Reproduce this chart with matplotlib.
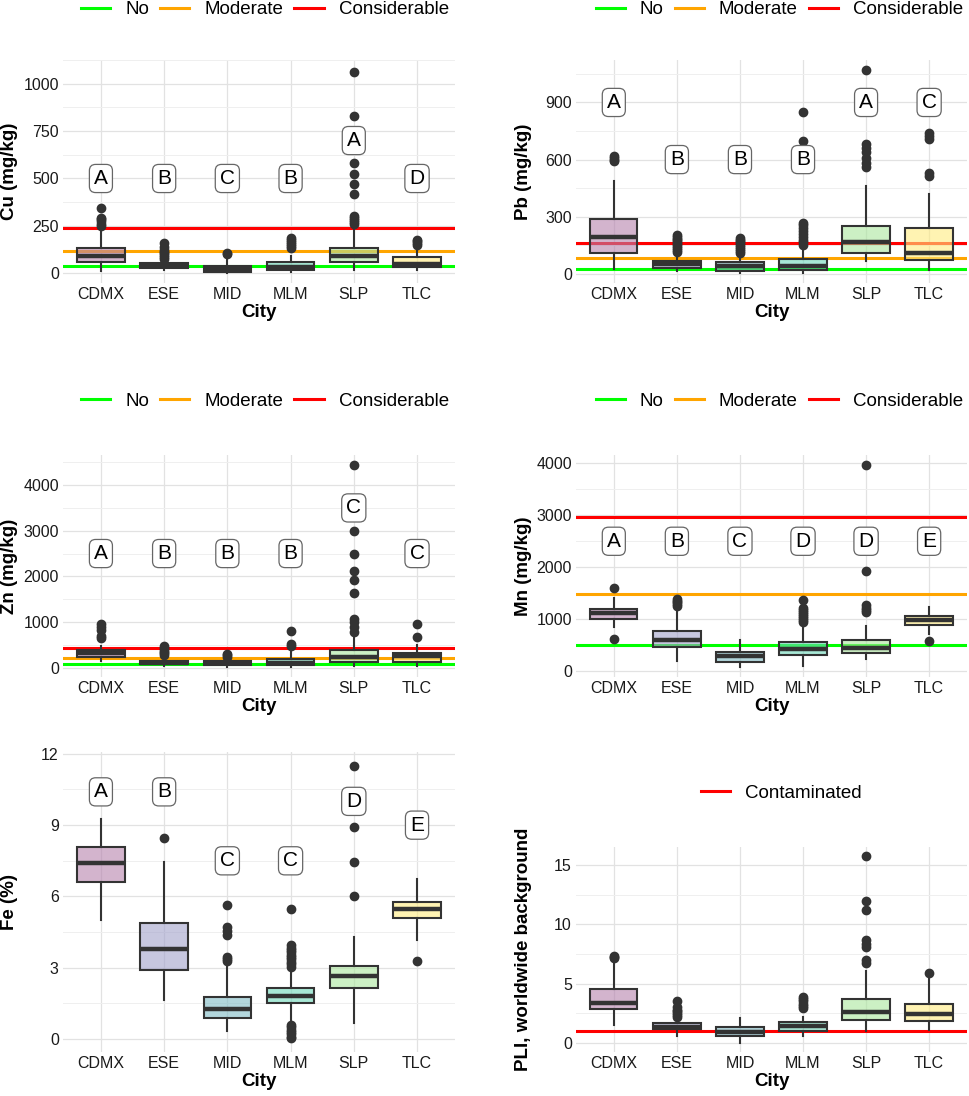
import matplotlib.pyplot as plt
from matplotlib.colors import to_rgba
from matplotlib.lines import Line2D

plt.rcParams['font.family'] = ['Liberation Sans', 'DejaVu Sans']

cities = ['CDMX', 'ESE', 'MID', 'MLM', 'SLP', 'TLC']
fills = ['#b682ad', '#a2a2cb', '#7fbbc5', '#6ed9bb', '#aae69d', '#ffeb7f']

guide_names = ['No', 'Moderate', 'Considerable']
guide_colors = ['#00ff00', '#ffa500', '#ff0000']

# per city: whisker low, q1, median, q3, whisker high
cu_box = [[12, 61, 94, 134, 230], [20, 28, 40, 52, 68], [2, 9, 22, 40, 75],
          [5, 16, 32, 59, 94], [20, 60, 91, 134, 245], [20, 33, 50, 85, 140]]
cu_out = [[250, 262, 275, 285, 292, 345],
          [75, 85, 95, 105, 115, 125, 140, 160],
          [100, 108],
          [135, 145, 155, 165, 175, 185],
          [260, 270, 280, 290, 300, 420, 470, 525, 580, 830, 1060],
          [148, 158, 168, 178]]
cu_letters = ['A', 'B', 'C', 'B', 'A', 'D']
cu_letter_y = [500, 500, 500, 500, 700, 500]
cu_lines = [39.5, 118.5, 237]

pb_box = [[25, 109, 192, 289, 488], [15, 28, 51, 67, 105], [5, 16, 39, 62, 100],
          [5, 20, 40, 78, 140], [65, 109, 166, 250, 459], [21, 74, 110, 242, 421]]
pb_out = [[590, 600, 610, 620],
          [115, 125, 135, 145, 155, 165, 175, 185, 195, 205],
          [110, 120, 130, 140, 150, 160, 170, 180, 190],
          [150, 165, 180, 195, 210, 225, 240, 255, 265, 700, 850],
          [560, 580, 610, 640, 660, 680, 1070],
          [515, 530, 710, 725, 740]]
pb_letters = ['A', 'B', 'B', 'B', 'A', 'C']
pb_letter_y = [900, 600, 600, 600, 900, 900]
pb_lines = [27, 81, 162]

zn_box = [[143, 231, 310, 385, 473], [40, 70, 105, 150, 240], [20, 55, 95, 143, 200],
          [15, 48, 100, 194, 400], [26, 128, 231, 392, 692], [40, 128, 260, 311, 488]]
zn_out = [[640, 700, 820, 900, 960],
          [270, 310, 350, 390, 430, 470],
          [240, 270, 300],
          [470, 520, 800],
          [780, 900, 1000, 1060, 1640, 1920, 2120, 2500, 3000, 4440],
          [680, 960]]
zn_letters = ['A', 'B', 'B', 'B', 'C', 'C']
zn_letter_y = [2500, 2500, 2500, 2500, 3500, 2500]
zn_lines = [70, 210, 420]

mn_box = [[851, 1000, 1109, 1193, 1406], [193, 470, 600, 774, 1193], [77, 180, 290, 367, 593],
          [97, 303, 419, 548, 903], [226, 354, 451, 593, 870], [710, 890, 980, 1050, 1224]]
mn_out = [[620, 1600],
          [1260, 1290, 1320, 1350, 1380],
          [],
          [940, 980, 1020, 1060, 1100, 1140, 1180, 1220, 1360],
          [1140, 1180, 1220, 1270, 1930, 3970],
          [570]]
mn_letters = ['A', 'B', 'C', 'D', 'D', 'E']
mn_letter_y = [2500, 2500, 2500, 2500, 2500, 2500]
mn_lines = [495, 1485, 2970]

fe_box = [[5.01, 6.62, 7.40, 8.10, 9.26], [1.64, 2.91, 3.78, 4.87, 7.47], [0.34, 0.90, 1.25, 1.78, 3.05],
          [0.66, 1.54, 1.81, 2.13, 2.77], [0.69, 2.13, 2.67, 3.09, 4.28], [4.17, 5.11, 5.46, 5.78, 6.73]]
fe_out = [[],
          [8.47],
          [3.27, 3.35, 3.45, 4.38, 4.55, 4.72, 5.64],
          [0.03, 0.1, 0.2, 0.3, 0.4, 0.5, 0.58, 3.05, 3.15, 3.25, 3.35, 3.45, 3.55,
           3.65, 3.75, 3.85, 3.95, 5.47],
          [6.02, 7.44, 8.91, 11.5],
          [3.30]]
fe_letters = ['A', 'B', 'C', 'C', 'D', 'E']
fe_letter_y = [10.4, 10.4, 7.5, 7.5, 10.0, 9.0]

pli_box = [[1.51, 2.83, 3.39, 4.51, 6.97], [0.59, 1.15, 1.37, 1.65, 2.1], [0.0, 0.53, 0.87, 1.29, 2.07],
           [0.53, 0.95, 1.43, 1.79, 2.21], [0.95, 1.88, 2.63, 3.67, 6.08], [1.09, 1.85, 2.41, 3.25, 5.35]]
pli_out = [[7.15, 7.25, 7.35],
           [2.2, 2.35, 2.5, 2.65, 2.8, 3.05, 3.53],
           [],
           [2.9, 3.1, 3.3, 3.5, 3.7, 3.89],
           [6.7, 6.97, 8.09, 8.3, 8.65, 11.23, 12.0, 15.74],
           [5.86]]
pli_lines = [1.0]


def draw_panel(ax, box, out, ylabel, major, minor, letters=None, letter_y=None,
               lines=None, names=None, colors=None, leg_xy=None, label_x=-0.115):
    pos = list(range(1, len(cities) + 1))
    stats = [dict(whislo=b[0], q1=b[1], med=b[2], q3=b[3], whishi=b[4], fliers=o)
             for b, o in zip(box, out)]
    res = ax.bxp(stats, positions=pos, widths=0.75, patch_artist=True, showcaps=False,
                 boxprops=dict(edgecolor='#333333', linewidth=1.5),
                 medianprops=dict(color='#333333', linewidth=3.2, solid_capstyle='butt'),
                 whiskerprops=dict(color='#333333', linewidth=1.5),
                 flierprops=dict(marker='o', markerfacecolor='#333333', markeredgecolor='#333333',
                                 markersize=6),
                 zorder=3)
    for patch, c in zip(res['boxes'], fills):
        patch.set_facecolor(to_rgba(c, 0.6))

    if lines is not None:
        for v, c in zip(lines, colors):
            ax.axhline(v, color=c, lw=2.2, zorder=2.5)
        handles = [Line2D([0], [0], color=c, lw=2.2) for c in colors]
        ax.legend(handles, names, loc='center', bbox_to_anchor=leg_xy, ncol=len(names),
                  frameon=False, fontsize=13.5, handlelength=1.55, handletextpad=0.8,
                  columnspacing=0.6, borderaxespad=0)

    if letters is not None:
        for p, t, y in zip(pos, letters, letter_y):
            ax.text(p, y, t, ha='center', va='center', fontsize=15, zorder=5,
                    bbox=dict(boxstyle='round,pad=0.22,rounding_size=0.3', fc='white',
                              ec='#666666', lw=0.9))

    vals = [v for b in box for v in b] + [v for o in out for v in o]
    lo, hi = min(vals), max(vals)
    span = hi - lo
    ax.set_ylim(lo - 0.05 * span, hi + 0.05 * span)
    ax.set_xlim(0.4, len(cities) + 0.6)
    ax.set_xticks(pos)
    ax.set_xticklabels(cities)
    ax.set_yticks(major)
    ax.set_yticks(minor, minor=True)
    ax.set_axisbelow(True)
    ax.grid(which='major', color='#e2e2e2', lw=0.9)
    ax.grid(which='minor', axis='y', color='#efefef', lw=0.7)
    for s in ax.spines.values():
        s.set_visible(False)
    ax.tick_params(which='both', length=0, labelsize=11.5, labelcolor='#1a1a1a', pad=3)
    ax.set_xlabel('City', fontsize=13.5, fontweight='bold', labelpad=1)
    ax.set_ylabel(ylabel, fontsize=13.5, fontweight='bold')
    ax.yaxis.set_label_coords(label_x, 0.5)


fig = plt.figure(figsize=(9.69, 10.96), dpi=100)

ax_cu = fig.add_axes([0.0650, 0.7418, 0.4045, 0.2035])
ax_pb = fig.add_axes([0.5944, 0.7418, 0.4035, 0.2035])
ax_zn = fig.add_axes([0.0650, 0.3823, 0.4045, 0.2026])
ax_mn = fig.add_axes([0.5944, 0.3823, 0.4035, 0.2026])
ax_fe = fig.add_axes([0.0650, 0.0401, 0.4045, 0.2737])
ax_pli = fig.add_axes([0.5944, 0.0401, 0.4035, 0.1870])

draw_panel(ax_cu, cu_box, cu_out, 'Cu (mg/kg)', [0, 250, 500, 750, 1000], [125, 375, 625, 875, 1125],
           cu_letters, cu_letter_y, cu_lines, guide_names, guide_colors, (0.515, 1.225))
draw_panel(ax_pb, pb_box, pb_out, 'Pb (mg/kg)', [0, 300, 600, 900], [150, 450, 750, 1050],
           pb_letters, pb_letter_y, pb_lines, guide_names, guide_colors, (0.52, 1.225),
           label_x=-0.1125)
draw_panel(ax_zn, zn_box, zn_out, 'Zn (mg/kg)', [0, 1000, 2000, 3000, 4000], [500, 1500, 2500, 3500, 4500],
           zn_letters, zn_letter_y, zn_lines, guide_names, guide_colors, (0.515, 1.243))
draw_panel(ax_mn, mn_box, mn_out, 'Mn (mg/kg)', [0, 1000, 2000, 3000, 4000], [500, 1500, 2500, 3500],
           mn_letters, mn_letter_y, mn_lines, guide_names, guide_colors, (0.52, 1.243),
           label_x=-0.1125)
draw_panel(ax_fe, fe_box, fe_out, 'Fe (%)', [0, 3, 6, 9, 12], [1.5, 4.5, 7.5, 10.5],
           fe_letters, fe_letter_y)
draw_panel(ax_pli, pli_box, pli_out, 'PLI, worldwide background', [0, 5, 10, 15], [2.5, 7.5, 12.5],
           lines=pli_lines, names=['Contaminated'], colors=['#ff0000'], leg_xy=(0.524, 1.263),
           label_x=-0.1125)

fig.savefig('out.png', dpi=100)
